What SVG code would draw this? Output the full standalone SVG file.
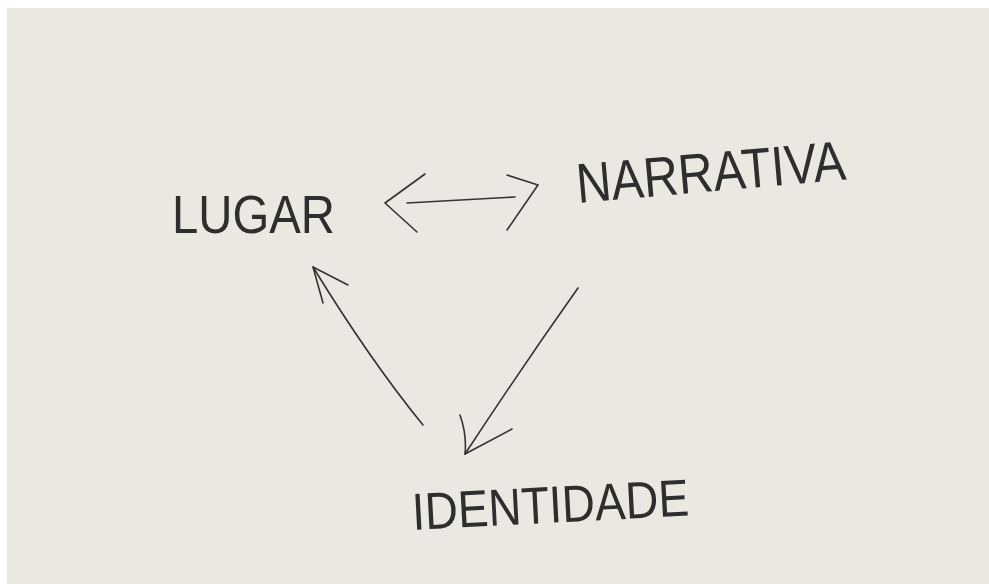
<svg xmlns="http://www.w3.org/2000/svg" width="989" height="584" viewBox="0 0 989 584">
<style>
.lbl{font-family:"Liberation Sans","DejaVu Sans",sans-serif;font-weight:normal;fill:#2e2e2e;}
.ln{fill:none;stroke:#333;stroke-width:1.6;stroke-linecap:round;stroke-linejoin:round;}
</style>
<rect x="0" y="0" width="989" height="584" fill="#ffffff"/>
<rect x="7" y="8" width="982" height="576" fill="#ebe8e2"/>
<g id="lugar"><text class="lbl" x="172" y="233" font-size="54" textLength="163" lengthAdjust="spacingAndGlyphs">LUGAR</text></g>
<g id="narrativa"><text class="lbl" x="578" y="203" font-size="56" textLength="270" lengthAdjust="spacingAndGlyphs" transform="rotate(-5 578 203)">NARRATIVA</text></g>
<g id="identidade"><text class="lbl" x="413" y="530" font-size="52" textLength="277" lengthAdjust="spacingAndGlyphs" transform="rotate(-3 413 530)">IDENTIDADE</text></g>
<g id="connectors">
<path class="ln" d="M407 203 L515 197"/>
<path class="ln" d="M425 174 L385 203 L417 232"/>
<path class="ln" d="M507 175 L538 185 L507 230"/>
<path class="ln" d="M423 425 Q370 360 313 267"/>
<path class="ln" d="M348 285 L313 267 L323 303"/>
<path class="ln" d="M578 288 Q520 370 465 454"/>
<path class="ln" d="M460 415 Q467 435 465 454 L512 429"/>
</g>
</svg>
